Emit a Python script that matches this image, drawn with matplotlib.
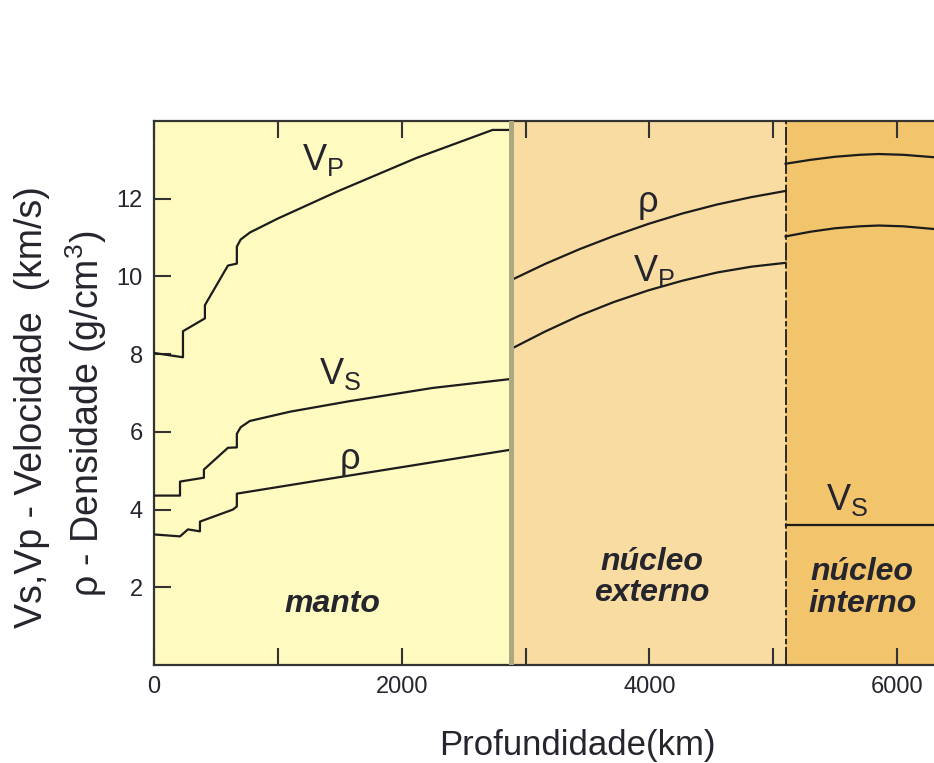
import matplotlib
matplotlib.use("Agg")
import matplotlib.pyplot as plt

plt.rcParams["font.family"] = ["Liberation Sans", "DejaVu Sans"]
plt.rcParams["mathtext.fontset"] = "custom"
plt.rcParams["mathtext.rm"] = "Liberation Sans"
plt.rcParams["mathtext.default"] = "regular"

# layer boundaries (km)
CMB = 2880
ICB = 5100
R_MAX = 6371

# mantle profiles (depth km, value); repeated depths are discontinuities
vp_mantle_z = [0, 234, 234, 411, 411, 597, 669, 669, 700, 774, 1000, 1476, 2120, 2734, CMB]
vp_mantle_v = [8.03, 7.92, 8.59, 8.92, 9.26, 10.28, 10.33, 10.77, 10.95, 11.13, 11.49, 12.18, 13.05, 13.77, 13.77]

vs_mantle_z = [0, 210, 210, 403, 403, 597, 669, 669, 700, 774, 1100, 1580, 2250, CMB]
vs_mantle_v = [4.36, 4.36, 4.72, 4.82, 5.03, 5.59, 5.60, 5.95, 6.12, 6.28, 6.52, 6.79, 7.13, 7.36]

rho_mantle_z = [0, 210, 274, 371, 371, 637, 669, 669, 1527, CMB]
rho_mantle_v = [3.36, 3.31, 3.49, 3.44, 3.69, 4.00, 4.08, 4.41, 4.85, 5.54]

# outer core
outer_z = [CMB, 3157, 3435, 3712, 3990, 4267, 4545, 4822, ICB]
rho_outer = [9.90, 10.32, 10.70, 11.04, 11.35, 11.62, 11.85, 12.04, 12.20]
vp_outer = [8.13, 8.58, 8.99, 9.34, 9.64, 9.89, 10.10, 10.25, 10.35]

# inner core
inner_z = [ICB, 5300, 5500, 5700, 5850, 6050, R_MAX]
rho_inner = [12.90, 13.00, 13.08, 13.13, 13.15, 13.13, 13.05]
vp_inner = [11.03, 11.15, 11.24, 11.29, 11.31, 11.29, 11.20]
vs_inner_z = [ICB, R_MAX]
vs_inner = [3.60, 3.60]

MANTLE_COLOR = "#fffac0"
OUTER_COLOR = "#f9dca2"
INNER_COLOR = "#f2c46b"
LINE_COLOR = "#1c1c1c"
TEXT_COLOR = "#25252e"

fig = plt.figure(figsize=(9.34, 7.63), dpi=100)
# the axis runs to the Earth's centre, slightly past the figure's right edge
ax = fig.add_axes([154 / 934, 98 / 763, 789 / 934, 544 / 763])
ax.set_xlim(0, R_MAX)
ax.set_ylim(0, 14)

ax.axvspan(0, CMB, color=MANTLE_COLOR, lw=0, zorder=0)
ax.axvspan(CMB, ICB, color=OUTER_COLOR, lw=0, zorder=0)
ax.axvspan(ICB, R_MAX, color=INNER_COLOR, lw=0, zorder=0)

kw = dict(color=LINE_COLOR, lw=1.6, zorder=3)
ax.plot(vp_mantle_z, vp_mantle_v, **kw)
ax.plot(vs_mantle_z, vs_mantle_v, **kw)
ax.plot(rho_mantle_z, rho_mantle_v, **kw)
ax.plot(outer_z, rho_outer, **kw)
ax.plot(outer_z, vp_outer, **kw)
ax.plot(inner_z, rho_inner, **kw)
ax.plot(inner_z, vp_inner, **kw)
ax.plot(vs_inner_z, vs_inner, **kw)

# core-mantle boundary and inner-core boundary
ax.axvline(CMB, color="#aca880", lw=3.6, zorder=4)
ax.axvline(ICB, color=LINE_COLOR, lw=1.3, ls=(0, (10, 1.5, 3, 1.5)), zorder=4)

lab = dict(fontsize=26, color=TEXT_COLOR, ha="center", va="center", zorder=5)
ax.text(1365, 13.0, "V$_P$", **lab)
ax.text(1500, 7.5, "V$_S$", **lab)
ax.text(1580, 5.3, "ρ", **lab)
ax.text(3990, 11.9, "ρ", **lab)
ax.text(4040, 10.15, "V$_P$", **lab)
ax.text(5600, 4.25, "V$_S$", **lab)

reg = dict(fontsize=23, color=TEXT_COLOR, ha="center", va="center",
           fontweight="bold", fontstyle="italic", linespacing=1.05, zorder=5)
ax.text(1440, 1.58, "manto", **reg)
ax.text(4020, 2.25, "núcleo\nexterno", **reg)
ax.text(5720, 1.98, "núcleo\ninterno", **reg)

ax.set_xticks([0, 2000, 4000, 6000])
ax.set_xticks([1000, 3000, 5000], minor=True)
ax.set_yticks([2, 4, 6, 8, 10, 12])
ax.tick_params(axis="both", which="both", direction="in", length=12, width=1.5,
               color="#333333", labelsize=17, labelcolor=TEXT_COLOR, pad=8)
ax.tick_params(axis="x", which="both", top=True)
for s in ax.spines.values():
    s.set_color("#333333")
    s.set_linewidth(1.6)
ax.spines["right"].set_visible(False)

fig.text(577 / 934, 1 - 745 / 763, "Profundidade(km)", fontsize=25,
         color=TEXT_COLOR, ha="center", va="center")
fig.text(32 / 934, 1 - 407 / 763, "Vs,Vp - Velocidade  (km/s)", fontsize=27,
         color=TEXT_COLOR, ha="center", va="center", rotation=90)
fig.text(86 / 934, 1 - 414 / 763, "ρ - Densidade (g/cm$^3$)", fontsize=27,
         color=TEXT_COLOR, ha="center", va="center", rotation=90)

fig.savefig("out.png", dpi=100)
